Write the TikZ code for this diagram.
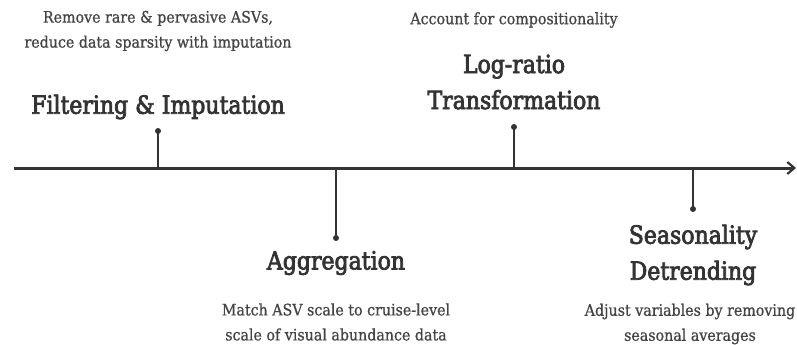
\documentclass[tikz,border=0pt]{standalone}
\usepackage{fontspec}
\setmainfont{DejaVu Serif}
\newfontfamily\headfont{DejaVu Serif}[FakeBold=3,FakeStretch=0.88]
\newfontfamily\descfont{DejaVu Serif}[FakeBold=0.8,FakeStretch=0.9]
\usetikzlibrary{arrows.meta}
\definecolor{ink}{HTML}{333333}
\definecolor{txt}{HTML}{444444}
\tikzset{
  axis/.style={line width=3pt, draw=ink, -{Straight Barb[length=7pt,width=12pt,line width=2.2pt]}},
  stem/.style={line width=1.2pt, draw=ink},
  dot/.style={circle, fill=ink, inner sep=0pt, minimum size=6pt},
  head/.style={text=ink, font=\headfont\fontsize{25}{36}\selectfont, align=center, inner sep=0pt},
  desc/.style={text=txt, font=\descfont\fontsize{15.8}{25}\selectfont, align=center, inner sep=0pt},
}
\begin{document}
\begin{tikzpicture}[x=1pt,y=-1pt]
\useasboundingbox (0,0) rectangle (797,345);
\coordinate (a0) at (14,168);
\coordinate (a1) at (796,168);
\draw[axis] (a0) -- (a1);
% Filtering
\coordinate (b1) at (158,168);
\node[dot] (d1) at (158,131) {};
\draw[stem] (b1) -- (d1.center);
\node[head] (h1) at (158,107) {Filtering \& Imputation};
\node[desc] (t1) at (158,31) {Remove rare \& pervasive ASVs,\\reduce data sparsity with imputation};
% Aggregation
\coordinate (b2) at (336,168);
\node[dot] (d2) at (336,238) {};
\draw[stem] (b2) -- (d2.center);
\node[head] (h2) at (336,263) {Aggregation};
\node[desc] (t2) at (336,322) {Match ASV scale to cruise-level\\scale of visual abundance data};
% Log-ratio
\coordinate (b3) at (514,168);
\node[dot] (d3) at (514,127) {};
\draw[stem] (b3) -- (d3.center);
\node[head] (h3) at (514,82) {Log-ratio\\Transformation};
\node[desc] (t3) at (514,20) {Account for compositionality};
% Seasonality
\coordinate (b4) at (693,168);
\node[dot] (d4) at (693,209) {};
\draw[stem] (b4) -- (d4.center);
\node[head] (h4) at (693,255) {Seasonality\\Detrending};
\node[desc] (t4) at (690,324) {Adjust variables by removing\\seasonal averages};
\end{tikzpicture}
\end{document}
